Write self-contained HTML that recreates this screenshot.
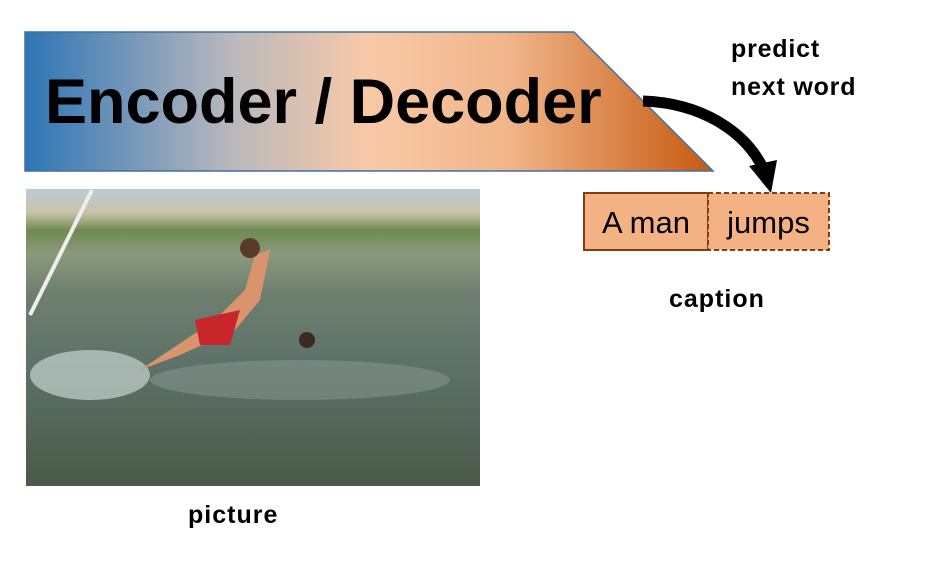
<!DOCTYPE html>
<html><head><style>
body{margin:0;width:942px;height:565px;background:#fff;overflow:hidden;position:relative;font-family:"Liberation Sans",sans-serif}
.t{position:absolute;font-weight:bold;color:#000}
</style></head><body>
<svg width="942" height="565" style="position:absolute;left:0;top:0">
<defs>
<linearGradient id="g" x1="25" x2="713" gradientUnits="userSpaceOnUse">
<stop offset="0" stop-color="#2e75b6"/>
<stop offset="0.3" stop-color="#b9b8bc"/>
<stop offset="0.5" stop-color="#f8c9a8"/>
<stop offset="0.7" stop-color="#f1b58a"/>
<stop offset="1" stop-color="#c55a11"/>
</linearGradient>
<linearGradient id="w" x1="0" y1="189" x2="0" y2="486" gradientUnits="userSpaceOnUse">
<stop offset="0" stop-color="#b9cdd5"/>
<stop offset="0.08" stop-color="#c9c2a6"/>
<stop offset="0.14" stop-color="#6f8a52"/>
<stop offset="0.22" stop-color="#8b9a7c"/>
<stop offset="0.35" stop-color="#6e7f6f"/>
<stop offset="0.6" stop-color="#5d7168"/>
<stop offset="1" stop-color="#4a5a48"/>
</linearGradient>
</defs>
<polygon points="25,32 574,32 713,171 25,171" fill="url(#g)" stroke="#41719c" stroke-width="1.5"/>
<rect x="26" y="189" width="454" height="297" fill="url(#w)"/>
<ellipse cx="90" cy="375" rx="60" ry="25" fill="#c8d3d0" opacity="0.7"/>
<ellipse cx="300" cy="380" rx="150" ry="20" fill="#8a9a94" opacity="0.5"/>
<path d="M140,370 L215,320 L245,290 L255,255 L270,250 L260,300 L235,330 L180,355 Z" fill="#d9946e"/>
<path d="M195,320 L240,310 L230,345 L200,345 Z" fill="#c8262a"/>
<circle cx="250" cy="248" r="10" fill="#5a3a28"/>
<circle cx="307" cy="340" r="8" fill="#3a2a20"/>
<line x1="30" y1="315" x2="92" y2="190" stroke="#eee" stroke-width="4"/>
<rect x="584" y="193" width="124" height="57" fill="#f4b183" stroke="#843c0c" stroke-width="2"/>
<rect x="708" y="193" width="121" height="57" fill="#f4b183" stroke="#843c0c" stroke-width="2" stroke-dasharray="5,3"/>
<path d="M643,101 C700,103 745,130 764,170" fill="none" stroke="#000" stroke-width="11"/>
<polygon points="749,166 777,160 771,193" fill="#000"/>
</svg>
<div class="t" style="left:45px;top:66px;font-size:63px;letter-spacing:0px">Encoder / Decoder</div>
<div class="t" style="left:731px;top:30px;font-size:25px;line-height:38px;letter-spacing:0.8px">predict<br>next word</div>
<div style="position:absolute;left:584px;top:205px;width:124px;text-align:center;font-size:31px">A man</div>
<div style="position:absolute;left:708px;top:205px;width:121px;text-align:center;font-size:31px">jumps</div>
<div class="t" style="left:669px;top:285px;font-size:25px;letter-spacing:1px">caption</div>
<div class="t" style="left:188px;top:501px;font-size:25px;letter-spacing:1px">picture</div>
</body></html>
